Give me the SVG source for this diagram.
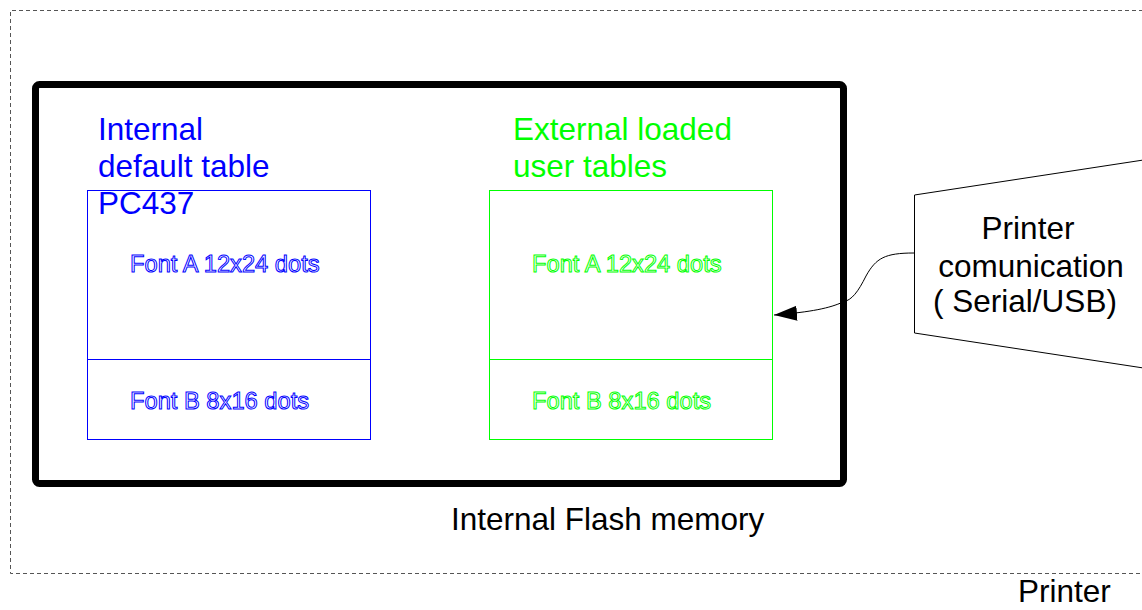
<svg xmlns="http://www.w3.org/2000/svg" width="1142" height="610" viewBox="0 0 1142 610">
<style>
text{font-family:"Liberation Sans",Arial,sans-serif}
.big{font-size:31.5px}
.blue{fill:#0000ff}
.green{fill:#00ff00}
.blk{fill:#000}
.ol{font-size:23.7px;fill:#fff;stroke-width:1}
.olb{stroke:#0000ff}
.olg{stroke:#00ff00}
</style>
<defs>
<marker id="ah" markerWidth="24" markerHeight="16" refX="23" refY="7.5" orient="auto" markerUnits="userSpaceOnUse">
<path d="M0,0 L23,7.5 L0,15 Z" fill="#000"/>
</marker>
</defs>
<rect width="1142" height="610" fill="#fff"/>
<g id="printer">
<path d="M1150,10.5 H10.5 V573.5 H1150" fill="none" stroke="#555" stroke-width="1" stroke-dasharray="4,3"/>
<text class="big blk" x="1018" y="602">Printer</text>
</g>
<g id="flash">
<rect x="35.5" y="84.5" width="808" height="399" rx="4" fill="none" stroke="#000" stroke-width="7"/>
<text class="big blk" x="451" y="530">Internal Flash memory</text>
</g>
<g id="internal-table">
<rect x="87.5" y="190.5" width="283" height="249" fill="none" stroke="#0000ff" stroke-width="1"/>
<line x1="87.5" y1="359.5" x2="370.5" y2="359.5" stroke="#0000ff" stroke-width="1"/>
<text class="big blue" x="98" y="140">Internal</text>
<text class="big blue" x="98" y="177">default table</text>
<text class="big blue" x="98" y="214">PC437</text>
<text class="ol olb" x="130" y="272">Font A 12x24 dots</text>
<text class="ol olb" x="130" y="409">Font B 8x16 dots</text>
</g>
<g id="external-tables">
<rect x="489.5" y="190.5" width="283" height="249" fill="none" stroke="#00ff00" stroke-width="1"/>
<line x1="489.5" y1="359.5" x2="772.5" y2="359.5" stroke="#00ff00" stroke-width="1"/>
<text class="big green" x="513" y="140">External loaded</text>
<text class="big green" x="513" y="177">user tables</text>
<text class="ol olg" x="532" y="272">Font A 12x24 dots</text>
<text class="ol olg" x="532" y="409">Font B 8x16 dots</text>
</g>
<g id="communication">
<path d="M1150,159 L914.5,195 V333 L1150,369" fill="none" stroke="#000" stroke-width="1"/>
<text class="big blk" text-anchor="middle" x="1028" y="239">Printer</text>
<text class="big blk" text-anchor="middle" x="1031" y="277">comunication</text>
<text class="big blk" text-anchor="middle" x="1025" y="312">( Serial/USB)</text>
</g>
<g id="connectors">
<path d="M914,253 C885,253 876,258 866,276 C858,292 852,300 843,302 C830,308 812,312 774,315" fill="none" stroke="#000" stroke-width="1" marker-end="url(#ah)"/>
</g>
</svg>
